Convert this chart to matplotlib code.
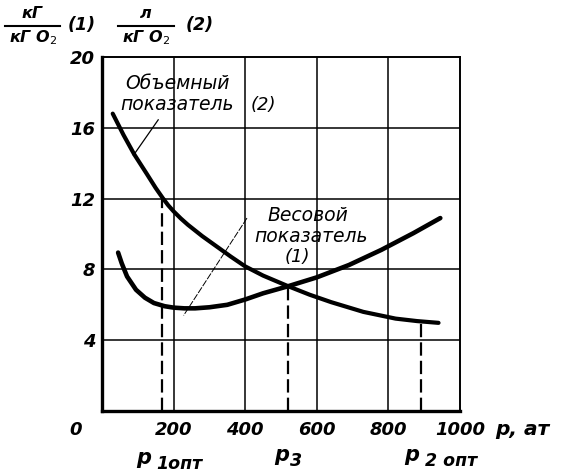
import matplotlib.pyplot as plt
from matplotlib.lines import Line2D

# curve (1) - weight index, kG / kG O2
p_w = [45, 55, 70, 95, 120, 145, 175, 200, 230, 260, 300, 350, 400, 450, 520, 600, 690, 780, 870, 945]
g_w = [8.95, 8.35, 7.6, 6.85, 6.4, 6.1, 5.92, 5.84, 5.8, 5.8, 5.86, 6.0, 6.3, 6.65, 7.05, 7.55, 8.25, 9.1, 10.05, 10.9]

# curve (2) - volume index, l / kG O2
p_v = [30, 60, 90, 125, 150, 170, 185, 200, 220, 240, 280, 320, 360, 400, 450, 520, 580, 640, 730, 820, 880, 940]
g_v = [16.8, 15.6, 14.5, 13.4, 12.6, 12.02, 11.62, 11.28, 10.88, 10.52, 9.88, 9.3, 8.72, 8.17, 7.65, 7.05, 6.57, 6.15, 5.6, 5.22, 5.08, 4.98]

# optimum / equal pressures and the curve value where the dashed line stops
p_marks = [168, 519, 891]
g_marks = [12.0, 7.05, 5.07]

xticks = [200, 400, 600, 800, 1000]
yticks = [4, 8, 12, 16, 20]

W, H = 563, 476
fig = plt.figure(figsize=(W / 100, H / 100), dpi=100)
ax = fig.add_axes([102 / W, 1 - 411 / H, 358 / W, 354 / H])
ax.set_xlim(0, 1000)
ax.set_ylim(0, 20)

for x in xticks[:-1]:
    ax.axvline(x, color='black', lw=1.1, zorder=1)
for y in yticks[:-1]:
    ax.axhline(y, color='black', lw=1.1, zorder=1)

ax.plot(p_v, g_v, color='black', lw=3.0, solid_capstyle='round', solid_joinstyle='round', zorder=3)
ax.plot(p_w, g_w, color='black', lw=3.3, solid_capstyle='round', solid_joinstyle='round', zorder=3)

for x, y in zip(p_marks, g_marks):
    ax.plot([x, x], [0, y], color='black', lw=1.6, dashes=(6, 2.3), zorder=2)

# leader lines to the curves
ax.plot([157, 88], [16.45, 14.45], color='black', lw=0.9, zorder=2)
ax.plot([405, 228], [10.9, 5.4], color='black', lw=0.7, dashes=(7, 1.5), zorder=2)

fs = dict(family='DejaVu Sans', style='italic')
ax.text(212, 18.5, 'Объемный', ha='center', va='center', fontsize=13.5, **fs)
ax.text(210, 17.3, 'показатель', ha='center', va='center', fontsize=13.5, **fs)
ax.text(450, 17.3, '(2)', ha='center', va='center', fontsize=13, **fs)
ax.text(575, 11.05, 'Весовой', ha='center', va='center', fontsize=13.5, **fs)
ax.text(583, 9.85, 'показатель', ha='center', va='center', fontsize=13.5, **fs)
ax.text(545, 8.72, '(1)', ha='center', va='center', fontsize=13, **fs)

for s in ['left', 'bottom']:
    ax.spines[s].set_linewidth(2.4)
for s in ['top', 'right']:
    ax.spines[s].set_linewidth(1.4)

ax.set_xticks(xticks)
ax.set_yticks(yticks)
ax.set_xticklabels([str(v) for v in xticks])
ax.set_yticklabels([str(v) for v in yticks])
ax.tick_params(length=0, labelsize=13, pad=7)
ax.tick_params(axis='y', pad=5)
for lab in ax.get_xticklabels() + ax.get_yticklabels():
    lab.set_fontstyle('italic')
    lab.set_fontweight('bold')

ax.text(-75, -1.07, '0', ha='center', va='center', fontsize=13, fontweight='bold', clip_on=False, **fs)
ax.text(1098, -1.07, 'p, ат', ha='left', va='center', fontsize=14.5, fontweight='bold', clip_on=False, **fs)


def ftext(x, y, s, size=12, **kw):
    fig.text(x / W, 1 - y / H, s, fontsize=size, fontweight='bold', ha='center', va='center', **fs, **kw)


# pressure labels under the axis
ftext(144, 458, 'p', 15)
ftext(179, 464, '1опт', 12.5)
ftext(282, 455, 'p', 15)
ftext(296, 461, '3', 12.5)
ftext(412, 455, 'p', 15)
ftext(451, 461, '2 опт', 12.5)

# units at the top
ftext(32, 14, 'кГ', 11.5)
ftext(33, 38, 'кГ O$_2$', 11.5)
ftext(82, 25, '(1)', 12.5)
ftext(146, 14, 'л', 11.5)
ftext(146, 38, 'кГ O$_2$', 11.5)
ftext(200, 25, '(2)', 12.5)
fig.add_artist(Line2D([5 / W, 60 / W], [1 - 26 / H, 1 - 26 / H], color='black', lw=1.5))
fig.add_artist(Line2D([118 / W, 174 / W], [1 - 26 / H, 1 - 26 / H], color='black', lw=1.5))

fig.savefig('out.png', dpi=100)
